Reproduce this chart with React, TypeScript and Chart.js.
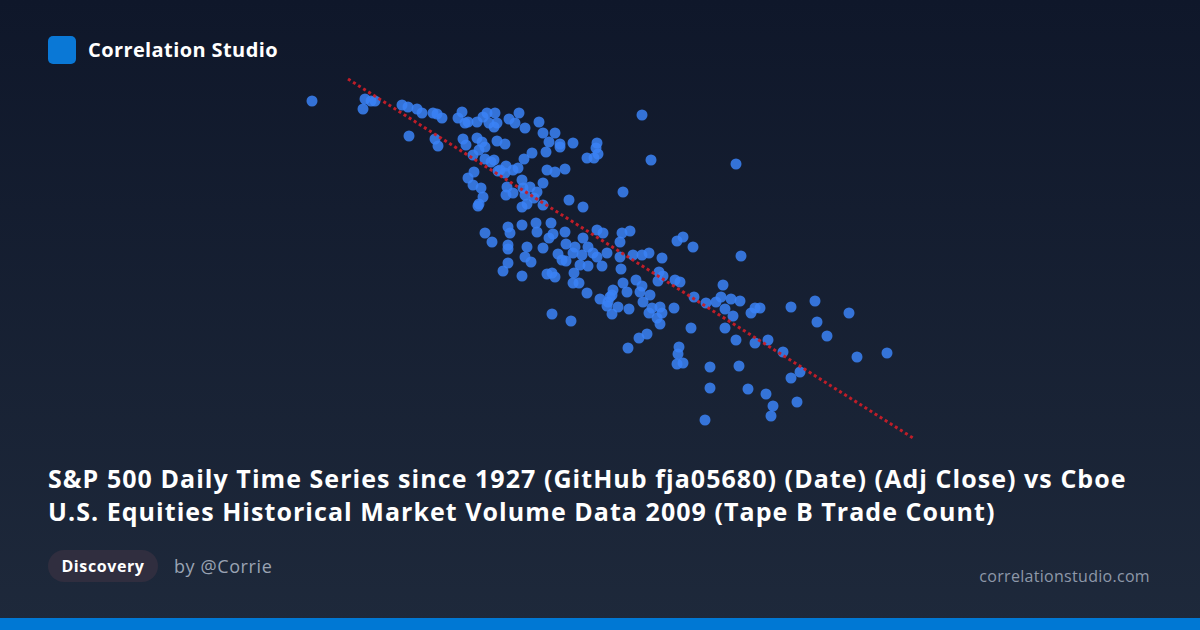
import React, { useEffect, useRef } from "react";
import { Chart, registerables } from "chart.js";

Chart.register(...registerables);

// S&P 500 Adj Close (horizontal reading units)
const adjClose: number[] = [
  12, 65, 63, 71, 75, 102, 108, 117, 122, 133, 137, 142, 109, 135, 138, 162, 158, 165, 168, 177,
  183, 187, 189, 194, 195, 163, 166, 177, 182, 185, 179, 197, 173, 185, 191, 194, 198, 174, 168, 173,
  181, 183, 179, 178, 185, 192, 197, 209, 215, 219, 225, 239, 243, 255, 249, 260, 260, 273, 297, 296,
  298, 287, 294, 342, 351, 205, 232, 246, 224, 200, 206, 213, 218, 205, 247, 255, 265, 243, 222, 230,
  207, 223, 237, 213, 206, 225, 234, 243, 222, 269, 283, 323, 208, 210, 222, 236, 237, 251, 253, 249,
  265, 283, 297, 303, 322, 330, 320, 208, 227, 243, 266, 275, 288, 258, 273, 293, 307, 333, 342, 349,
  362, 377, 383, 227, 208, 262, 266, 282, 280, 288, 302, 297, 320, 225, 231, 208, 203, 222, 247, 252,
  255, 274, 273, 279, 287, 321, 323, 327, 336, 342, 340, 350, 313, 312, 300, 308, 307, 318, 329, 312,
  343, 352, 349, 357, 252, 271, 347, 339, 393, 441, 359, 363, 358, 375, 380, 310, 360, 362, 360, 374,
  394, 406, 416, 421, 423, 431, 440, 425, 433, 451, 455, 460, 391, 425, 328, 379, 378, 436, 455, 468,
  410, 439, 410, 448, 466, 473, 471, 405, 497, 491, 500, 483, 491, 515, 517, 527, 549, 557, 587, 377,
  383, 436,
];

// Tape B Trade Count (vertical reading units)
const tradeCount: number[] = [
  349, 351, 341, 349, 349, 345, 343, 341, 337, 337, 336, 332, 314, 311, 304, 338, 332, 327, 328, 328,
  333, 337, 327, 323, 337, 311, 305, 312, 308, 303, 300, 309, 295, 291, 288, 290, 279, 278, 272, 265,
  262, 253, 246, 244, 217, 208, 327, 331, 327, 337, 322, 328, 317, 317, 308, 306, 303, 307, 307, 302,
  296, 292, 292, 335, 290, 306, 297, 298, 291, 280, 284, 280, 282, 277, 280, 278, 281, 267, 270, 263,
  263, 262, 258, 257, 255, 255, 252, 245, 243, 250, 243, 258, 223, 217, 225, 227, 218, 227, 216, 212,
  218, 212, 220, 217, 217, 219, 208, 205, 203, 202, 206, 203, 203, 196, 197, 197, 197, 195, 195, 197,
  192, 209, 213, 246, 201, 190, 189, 195, 185, 184, 184, 193, 193, 193, 188, 187, 179, 174, 176, 177,
  173, 177, 167, 167, 157, 181, 167, 158, 170, 164, 158, 155, 160, 155, 151, 148, 144, 143, 141, 136,
  148, 142, 137, 132, 136, 129, 116, 112, 203, 194, 178, 174, 169, 170, 168, 153, 143, 137, 126, 142,
  153, 147, 148, 153, 165, 151, 149, 141, 134, 137, 142, 142, 122, 122, 102, 103, 96, 110, 107, 110,
  83, 84, 62, 61, 56, 44, 34, 30, 48, 72, 78, 98, 143, 149, 128, 114, 137, 93, 97, 86,
  87, 286,
];

// Trend line end points (same reading units)
const trendX: number[] = [48, 613];
const trendY: number[] = [371, 12];

const xRange = { min: -20, max: 640 };
const yRange = { min: -10, max: 390 };

function ScatterChart() {
  const ref = useRef<HTMLCanvasElement | null>(null);
  useEffect(() => {
    if (!ref.current) return;
    const points = adjClose.map((x, i) => ({ x, y: tradeCount[i] }));
    const trend = trendX.map((x, i) => ({ x, y: trendY[i] }));
    const chart = new Chart(ref.current, {
      type: "scatter",
      data: {
        datasets: [
          {
            type: "line",
            data: trend,
            borderColor: "rgba(200, 30, 40, 0.95)",
            borderWidth: 3,
            borderDash: [3, 3],
            pointRadius: 0,
            fill: false,
            order: 0,
          } as any,
          {
            data: points,
            backgroundColor: "rgba(59, 130, 246, 0.85)",
            borderWidth: 0,
            pointRadius: 5.5,
            pointHoverRadius: 5.5,
            order: 1,
          },
        ],
      },
      options: {
        animation: false,
        responsive: false,
        maintainAspectRatio: false,
        layout: { padding: 0, autoPadding: false },
        plugins: { legend: { display: false }, tooltip: { enabled: false } },
        scales: {
          x: { type: "linear", display: false, min: xRange.min, max: xRange.max },
          y: { type: "linear", display: false, min: yRange.min, max: yRange.max },
        },
      },
    });
    return () => chart.destroy();
  }, []);
  return (
    <canvas
      ref={ref}
      width={660}
      height={400}
      style={{ position: "absolute", left: 280, top: 60, width: 660, height: 400 }}
    />
  );
}

export default function App() {
  const font = "'Open Sans', 'Noto Sans', sans-serif";
  return (
    <div
      style={{
        position: "fixed",
        left: 0,
        top: 0,
        width: 1200,
        height: 630,
        overflow: "hidden",
        background: "linear-gradient(180deg, #0f172a 0%, #1e293b 100%)",
        fontFamily: font,
      }}
    >
      <div
        style={{
          position: "absolute",
          left: 48,
          top: 36,
          width: 28,
          height: 28,
          borderRadius: 5,
          background: "#0a78d6",
        }}
      />
      <div
        style={{
          position: "absolute",
          left: 88,
          top: 36,
          height: 28,
          lineHeight: "28px",
          fontSize: 20,
          fontWeight: 700,
          letterSpacing: 0.4,
          color: "#ffffff",
          whiteSpace: "nowrap",
        }}
      >
        Correlation Studio
      </div>
      <ScatterChart />
      <div
        style={{
          position: "absolute",
          left: 48,
          top: 462,
          fontSize: 25,
          lineHeight: "33px",
          fontWeight: 700,
          letterSpacing: 1.05,
          color: "#ffffff",
          whiteSpace: "nowrap",
        }}
      >
        S&amp;P 500 Daily Time Series since 1927 (GitHub fja05680) (Date) (Adj Close) vs Cboe
        <br />
        U.S. Equities Historical Market Volume Data 2009 (Tape B Trade Count)
      </div>
      <div
        style={{
          position: "absolute",
          left: 48,
          top: 550,
          height: 32,
          width: 110,
          borderRadius: 16,
          background: "#302e3f",
          color: "#ffffff",
          fontSize: 16,
          fontWeight: 700,
          letterSpacing: 0.6,
          lineHeight: "32px",
          textAlign: "center",
        }}
      >
        Discovery
      </div>
      <div
        style={{
          position: "absolute",
          left: 174,
          top: 550,
          height: 32,
          lineHeight: "32px",
          fontSize: 18,
          letterSpacing: 0.6,
          color: "#9aa3b3",
          whiteSpace: "nowrap",
        }}
      >
        by @Corrie
      </div>
      <div
        style={{
          position: "absolute",
          right: 50,
          top: 562,
          height: 28,
          lineHeight: "28px",
          fontSize: 16,
          letterSpacing: 0.3,
          color: "#8e98a9",
          whiteSpace: "nowrap",
        }}
      >
        correlationstudio.com
      </div>
      <div
        style={{
          position: "absolute",
          left: 0,
          top: 618,
          width: 1200,
          height: 12,
          background: "#0078d4",
        }}
      />
    </div>
  );
}
